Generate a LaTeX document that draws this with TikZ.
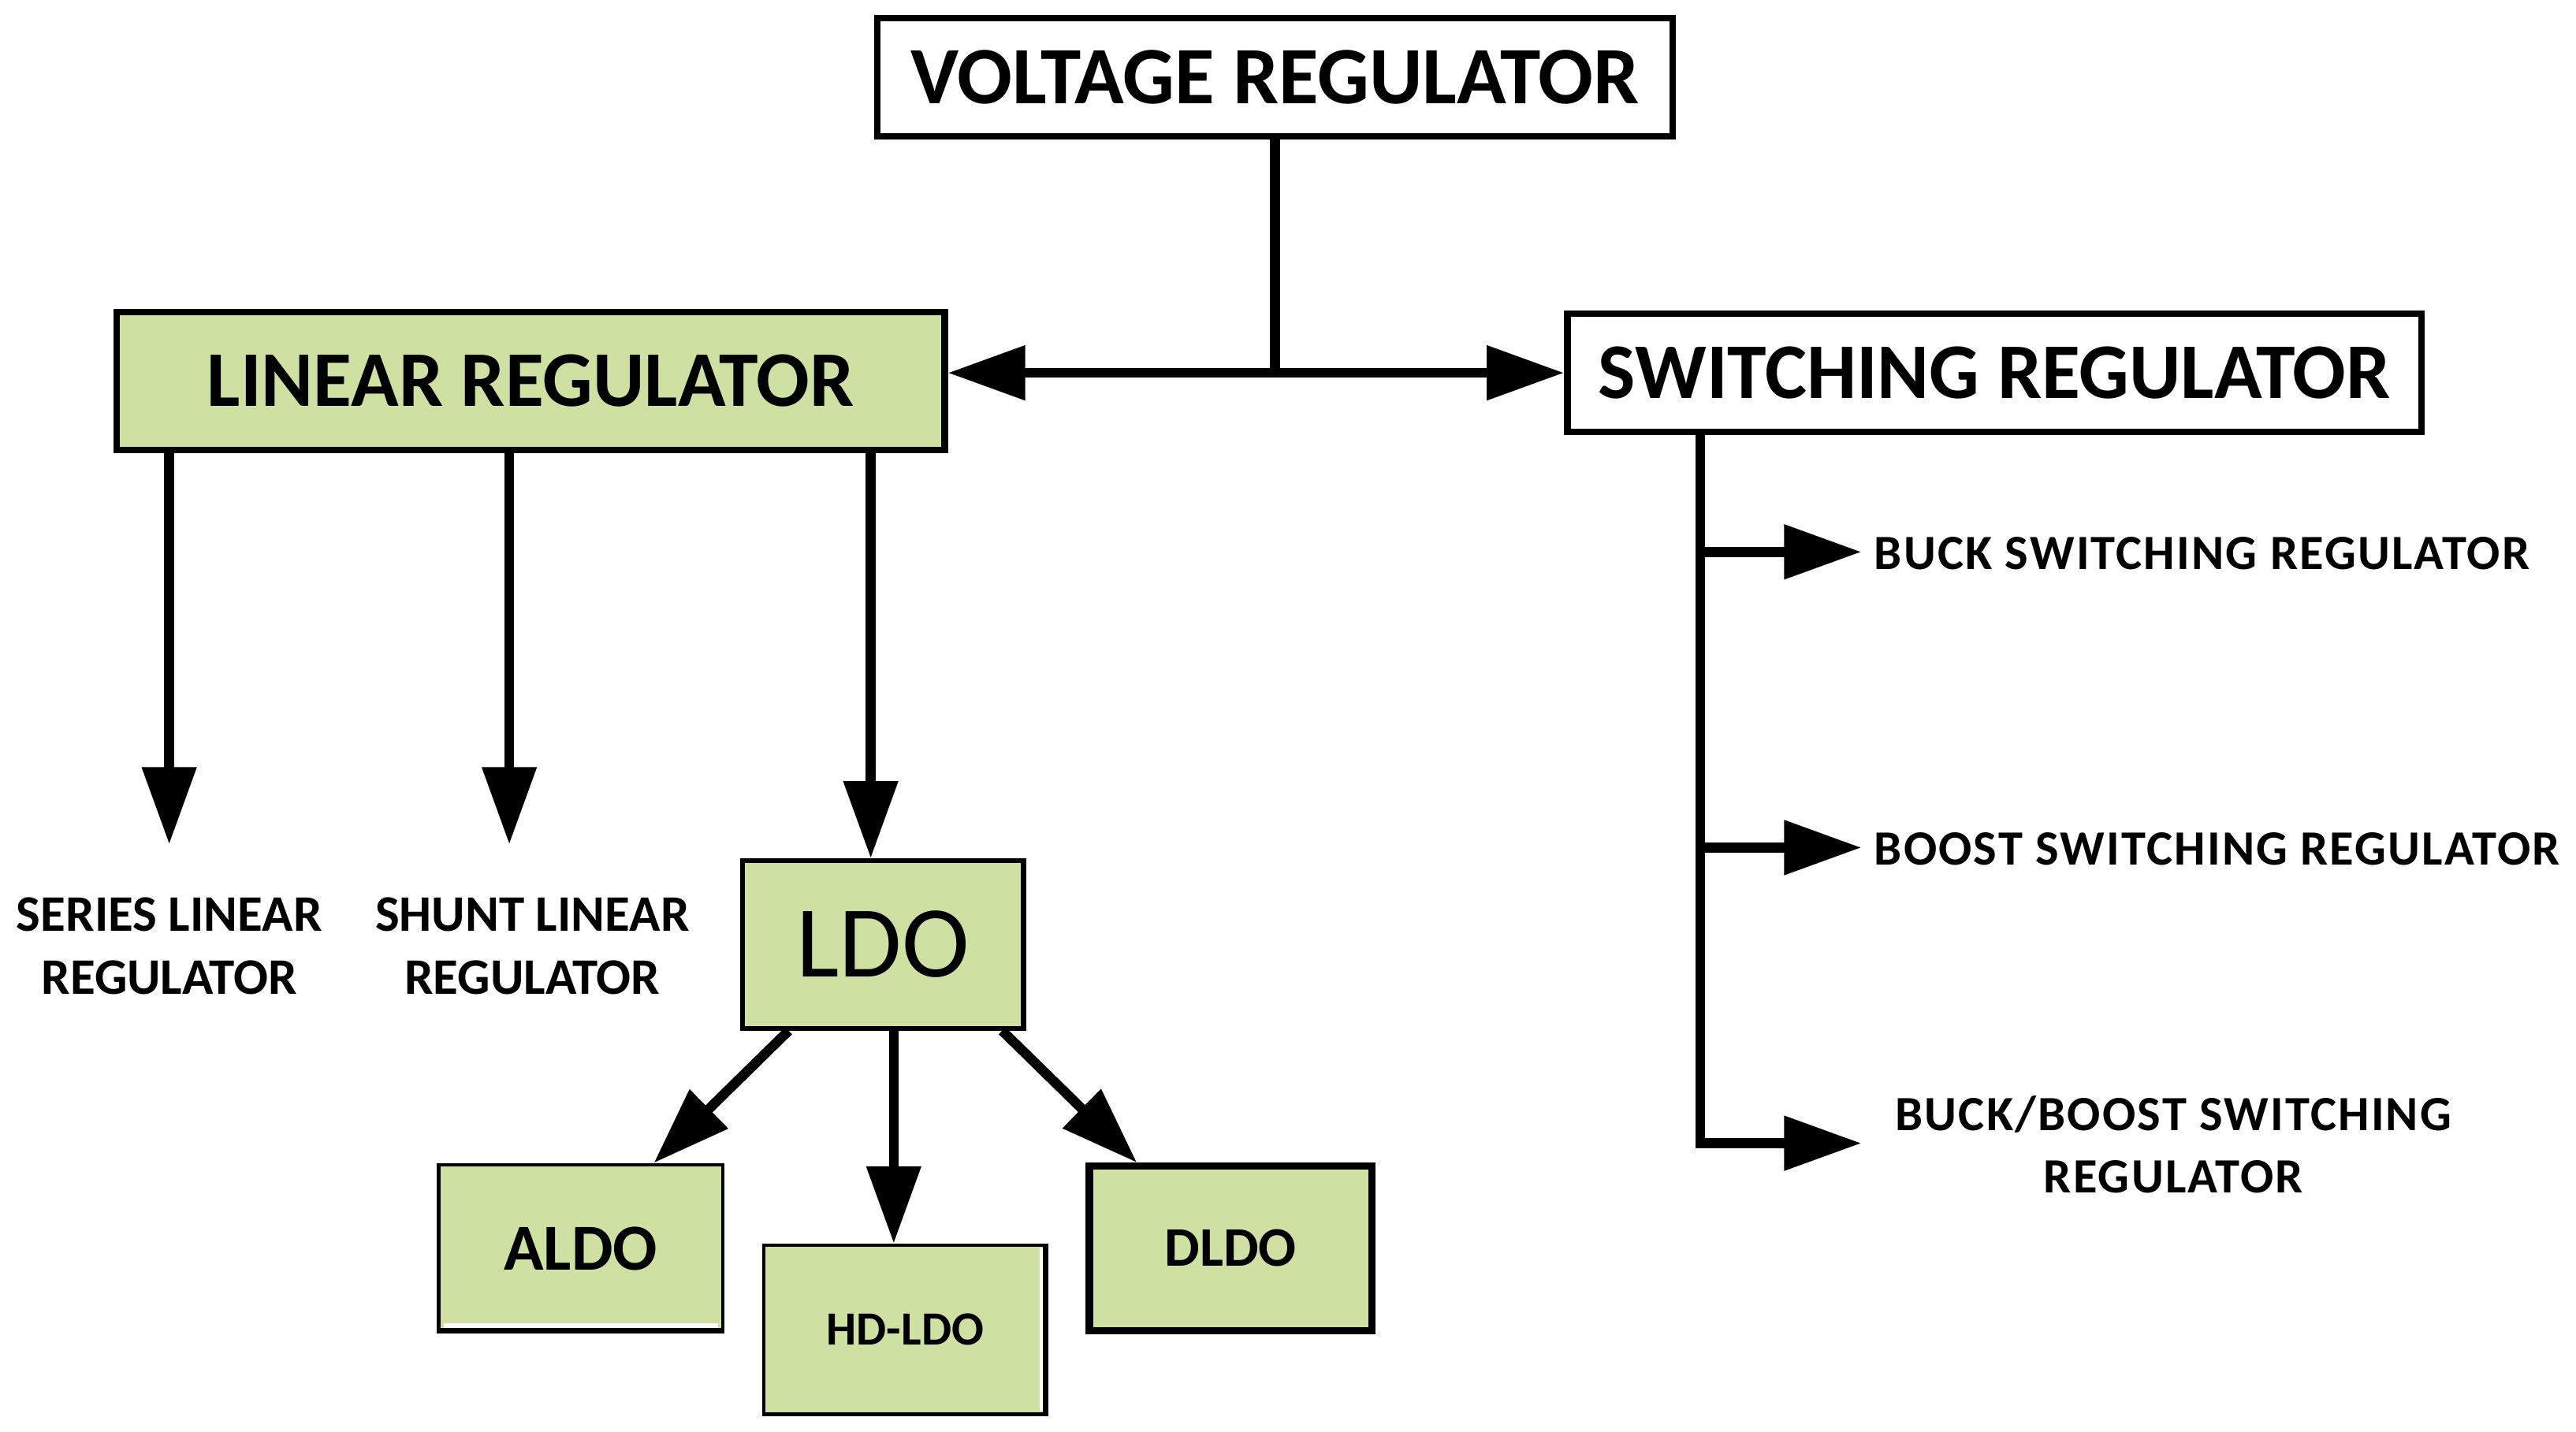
\documentclass[tikz,border=0pt]{standalone}
\usepackage{fontspec}
\setmainfont{Carlito}
\newfontfamily\spacedfont[LetterSpace=3.5]{Carlito}
\usetikzlibrary{arrows.meta,calc}
\definecolor{boxgreen}{RGB}{206,224,162}
\begin{document}
\begin{tikzpicture}[x=0.5pt,y=-0.5pt,
  bigbox/.style={draw,line width=2pt,rectangle,inner sep=0pt,font=\fontsize{24}{29}\selectfont\bfseries},
  smallbox/.style={draw,fill=boxgreen,rectangle,inner sep=0pt},
  conn/.style={line width=3pt},
  arr/.style={conn,-{Triangle[length=23.5pt,width=16pt]}},
  lbl/.style={font=\fontsize{15.6}{19}\selectfont\bfseries,align=center,inner sep=0pt},
  swlbl/.style={font=\spacedfont\fontsize{15}{19}\selectfont\bfseries,align=center,inner sep=0pt}]
\useasboundingbox (0,0) rectangle (1568,871.8);

% boxes
\node[bigbox,minimum width=242pt,minimum height=36pt,font=\fontsize{24.8}{29}\selectfont\bfseries] (volt) at (776,47) {VOLTAGE REGULATOR};
\node[bigbox,fill=boxgreen,minimum width=252pt,minimum height=42pt] (lin) at (323,232) {LINEAR REGULATOR};
\node[bigbox,minimum width=260pt,minimum height=36pt] (sw) at (1214,227) {SWITCHING REGULATOR};
\node[smallbox,line width=1.5pt,minimum width=85.5pt,minimum height=51pt,font=\fontsize{31}{37}\selectfont] (ldo) at (537.5,575) {LDO};
\node[smallbox,line width=1pt,minimum width=86.5pt,minimum height=51pt,font=\fontsize{20}{24}\selectfont\bfseries] (aldo) at (353.5,760) {ALDO};
\node[smallbox,line width=1pt,minimum width=86pt,minimum height=51.5pt,font=\fontsize{14.5}{17}\selectfont\bfseries] (hd) at (551,809.5) {HD-LDO};
\node[smallbox,line width=2.25pt,minimum width=86pt,minimum height=50pt,font=\fontsize{17}{20}\selectfont\bfseries] (dldo) at (749,760) {DLDO};

% shadow edges
\fill[white] ([shift={(2pt,3.25pt)}]aldo.south west) rectangle ([shift={(-2pt,1.75pt)}]aldo.south east);
\fill[black] (aldo.south west) rectangle ([yshift=1.75pt]aldo.south east);
\fill[white] ([shift={(-2.5pt,-1.5pt)}]hd.north east) rectangle ([shift={(-1.5pt,1.5pt)}]hd.south east);
\fill[black] ([xshift=-1.5pt]hd.north east) rectangle (hd.south east);

% labels
\node[lbl] (series) at (103,576) {SERIES LINEAR\\REGULATOR};
\node[lbl] (shunt) at (324,576) {SHUNT LINEAR\\REGULATOR};
\node[swlbl,anchor=west,inner xsep=3.75pt] (buck) at (1133,337) {BUCK SWITCHING REGULATOR};
\node[swlbl,anchor=west,inner xsep=3.75pt] (boost) at (1133,517) {BOOST SWITCHING REGULATOR};
\node[swlbl] (bb) at (1323,697) {BUCK/BOOST SWITCHING\\REGULATOR};

% top connectors
\coordinate (J) at (volt.south |- sw.west);
\draw[conn] (volt.south) -- (J);
\draw[arr] (J) -- (J -| lin.east);
\draw[arr] (J) -- (sw.west);

% linear branches
\coordinate (t1) at (103,514);
\coordinate (t2) at (310,514);
\coordinate (t3) at (530,524);
\draw[arr] (lin.south -| t1) -- (t1);
\draw[arr] (lin.south -| t2) -- (t2);
\draw[arr] (lin.south -| t3) -- (ldo.north -| t3);

% LDO branches
\draw[arr] ([xshift=-28.75pt]ldo.south) -- ([xshift=22.25pt]aldo.north);
\draw[arr] ([xshift=3.25pt]ldo.south) -- ([xshift=-3.5pt]hd.north);
\draw[arr] ([xshift=36.25pt]ldo.south) -- ([xshift=-28.5pt]dldo.north);

% switching branches
\coordinate (b1) at (1035,336);
\coordinate (b2) at (1035,516);
\coordinate (b3) at (1035,696);
\coordinate (tp3) at (1133,696);
\draw[arr,line join=miter] (sw.south -| b3) -- (b3) -- (tp3);
\draw[arr] (b1) -- (b1 -| buck.west);
\draw[arr] (b2) -- (b2 -| boost.west);
\end{tikzpicture}
\end{document}
